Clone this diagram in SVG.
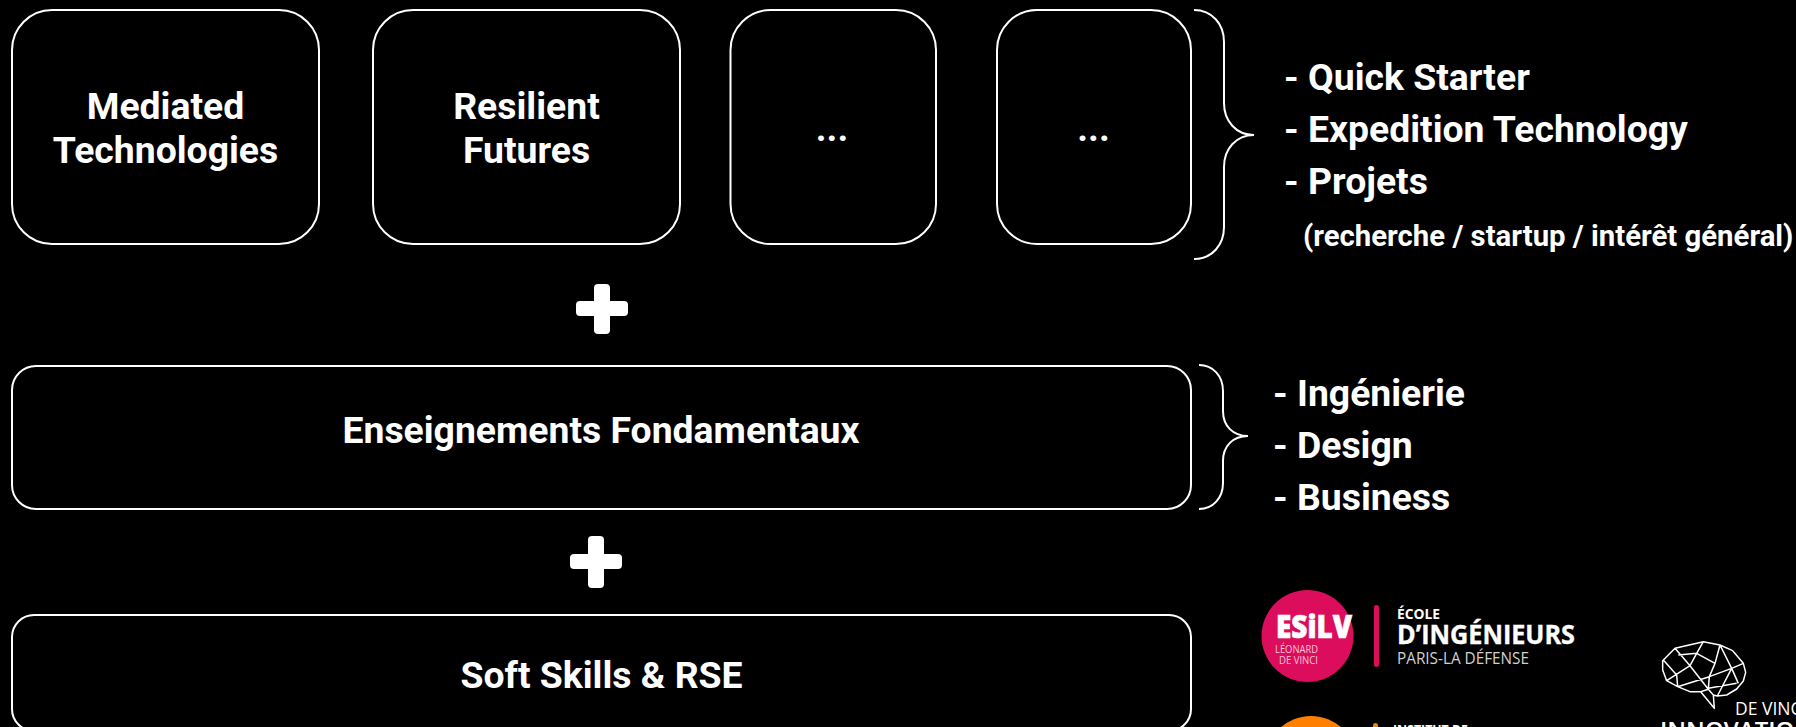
<svg xmlns="http://www.w3.org/2000/svg" width="1796" height="727" viewBox="0 0 1796 727">
<style>
text{font-family:Roboto,"Liberation Sans",sans-serif;font-weight:700;fill:#fff}
.box{fill:none;stroke:#fff;stroke-width:2}
.lab{font-size:37.33px;text-anchor:middle}
.li{font-size:37.33px}
.brace{fill:none;stroke:#fff;stroke-width:2}
.logo{font-family:"Open Sans","Noto Sans",sans-serif}
.brain{fill:none;stroke:#fff;stroke-width:4.500;stroke-linejoin:round}
</style>
<rect width="1796" height="727" fill="#000"/>
<g id="node-mediated"><rect class="box" x="12" y="10" width="307" height="234" rx="40"/><text class="lab" x="165.500" y="119">Mediated</text><text class="lab" x="165.500" y="163">Technologies</text></g>
<g id="node-resilient"><rect class="box" x="373" y="10" width="307" height="234" rx="40"/><text class="lab" x="526.500" y="119">Resilient</text><text class="lab" x="526.500" y="163">Futures</text></g>
<g id="node-dots-1"><rect class="box" x="730.500" y="10" width="205.500" height="234" rx="40"/><text class="lab" x="832" y="141">...</text></g>
<g id="node-dots-2"><rect class="box" x="997" y="10" width="194" height="234" rx="40"/><text class="lab" x="1093.500" y="141">...</text></g>
<g id="node-fondamentaux"><rect class="box" x="12" y="366" width="1179" height="143" rx="24"/><text class="lab" x="601" y="443">Enseignements Fondamentaux</text></g>
<g id="node-softskills"><rect class="box" x="12" y="615" width="1179" height="116" rx="22"/><text class="lab" x="601.500" y="687.500">Soft Skills &amp; RSE</text></g>
<g id="connectors">
<path class="brace" d="M1194 10C1212 10 1224 24 1224 42V103C1224 121 1236 135 1254 135C1236 135 1224 149 1224 167V227C1224 245 1212 259 1194 259"/>
<path class="brace" d="M1199 365C1213 365 1223 376 1223 391V411C1223 426 1233 436 1248 436C1233 436 1223 446 1223 461V483C1223 498 1213 509 1199 509"/>
</g>
<g id="plus-1" fill="#fff"><rect x="594" y="284" width="16" height="50" rx="4"/><rect x="576" y="301" width="52" height="15" rx="4"/></g>
<g id="plus-2" fill="#fff"><rect x="588" y="536" width="16" height="52" rx="4"/><rect x="570" y="554" width="52" height="15" rx="4"/></g>
<g id="list-top">
<text class="li" x="1284" y="90">- Quick Starter</text>
<text class="li" x="1284" y="142">- Expedition Technology</text>
<text class="li" x="1284" y="194">- Projets</text>
<text x="1303" y="246" font-size="29.330">(recherche / startup / intérêt général)</text>
</g>
<g id="list-mid">
<text class="li" x="1273" y="406">- Ingénierie</text>
<text class="li" x="1273" y="458">- Design</text>
<text class="li" x="1273" y="510">- Business</text>
</g>
<g id="logo-esilv">
<circle cx="1307.500" cy="636" r="46" fill="#dc0d5c"/>
<text class="logo" x="1276" y="638" font-size="32" stroke="#fff" stroke-width=".7" style="font-weight:800" textLength="76" lengthAdjust="spacingAndGlyphs">ESiLV</text>
<text class="logo" x="1275" y="653" font-size="11.500" style="font-weight:400;fill:#f7c6d8" textLength="43" lengthAdjust="spacingAndGlyphs">LÉONARD</text>
<text class="logo" x="1279" y="664" font-size="11.500" style="font-weight:400;fill:#f7c6d8" textLength="39" lengthAdjust="spacingAndGlyphs">DE VINCI</text>
<rect x="1374" y="605" width="5" height="62" rx="2.500" fill="#dc0d5c"/>
<text class="logo" x="1397" y="619" font-size="14" textLength="43" lengthAdjust="spacingAndGlyphs">ÉCOLE</text>
<text class="logo" x="1397" y="644" font-size="27" stroke="#fff" stroke-width=".4" textLength="178" lengthAdjust="spacingAndGlyphs">D’INGÉNIEURS</text>
<text class="logo" x="1397" y="664" font-size="16.500" style="font-weight:400;fill:#d0d0d0" textLength="132" lengthAdjust="spacingAndGlyphs">PARIS-LA DÉFENSE</text>
</g>
<g id="logo-orange">
<circle cx="1311" cy="762" r="46" fill="#ff7f00"/>
<rect x="1373" y="723" width="5" height="40" rx="2.500" fill="#ff7f00"/>
<text class="logo" x="1393" y="735" font-size="13.500" textLength="75" lengthAdjust="spacingAndGlyphs">INSTITUT DE</text>
</g>
<g id="logo-devinci">
<g transform="translate(1580 620) scale(.33333)"><path class="brain" d="M248 122L285 85L370 65L420 75L458 92L490 130L497 157L490 183L470 207L440 225L412 228L400 225L403 265L362 215L330 215L293 200L260 182L248 150ZM295 105L350 100L405 130L420 75L455 145L475 190M370 65L350 100L330 137L260 182M285 85L330 137L385 208M250 120L290 165L293 200M293 200L388 170L455 145L490 130M405 130L388 170L385 205L470 190M455 145L412 228M385 208L362 215M400 225L385 208"/></g>
<text class="logo" x="1735" y="715" font-size="17.500" style="font-weight:400">DE VINCI</text>
<text class="logo" x="1660" y="739" font-size="24" style="font-weight:600">INNOVATION</text>
</g>
</svg>
